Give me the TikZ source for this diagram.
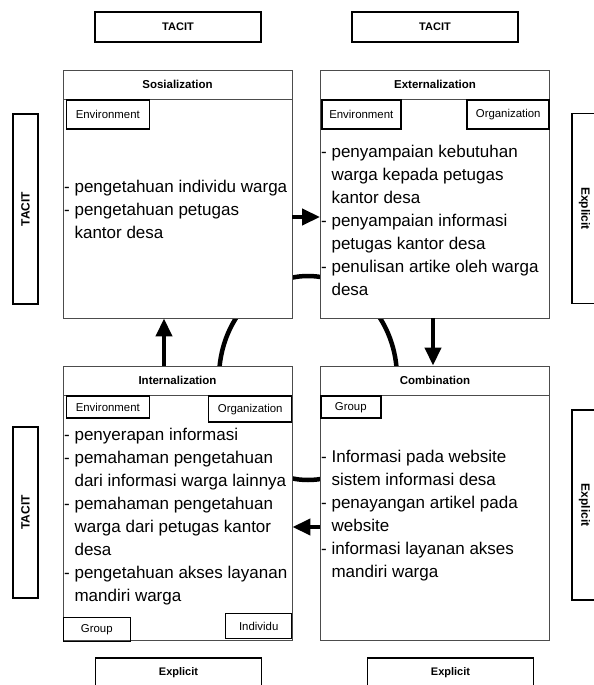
\documentclass[tikz,border=0pt]{standalone}
\usepackage{fontspec}
\setmainfont{Liberation Sans}
\usetikzlibrary{arrows.meta}
\newcommand{\cont}{\phantom{- }}

\begin{document}
\begin{tikzpicture}[x=1pt,y=-1pt,
    panel/.style={draw=black!70,line width=0.9pt,fill=white,
      minimum width=229pt,inner sep=0pt},
    phase/.style={draw=black!70,line width=0.9pt,minimum width=229pt,
      minimum height=29pt,inner sep=0pt,
      font=\fontsize{11.5}{13}\selectfont\bfseries},
    tag/.style={draw,line width=1.5pt,inner sep=0pt,
      font=\fontsize{11.4}{13}\selectfont},
    kind/.style={draw,line width=1.3pt,inner sep=0pt,
      font=\fontsize{11}{12}\selectfont\bfseries},
    upright/.style={kind,minimum width=190pt,minimum height=25pt,
      font=\fontsize{12}{14}\selectfont\bfseries},
    body/.style={align=left,inner sep=0pt,font=\fontsize{17}{23}\selectfont},
    flow/.style={line width=4pt,-{Triangle[length=18pt,width=16pt]}}]
  \useasboundingbox (0,0) rectangle (594,685);
  \clip (0,0) rectangle (594,685);

  % Knowledge cycle behind the four panels.
  \draw[line width=4.5pt] (308,378) ellipse [x radius=89pt,y radius=102pt];

  % The four SECI panels and their headings.
  \node[panel,minimum height=248pt] (soc) at (177.5,194) {};
  \node[panel,minimum height=248pt] (ext) at (435,194) {};
  \node[panel,minimum height=274pt] (intl) at (177.5,503) {};
  \node[panel,minimum height=274pt] (comb) at (435,503) {};
  \foreach \p/\ttl in {soc/Sosialization, ext/Externalization,
      intl/Internalization, comb/Combination}
    \node[phase,anchor=north] (\p-head) at (\p.north) {\ttl};

  % Scope tags inside the panels.
  \node[tag,minimum width=83pt,minimum height=29pt,anchor=north west]
    (soc-env) at ([xshift=3pt]soc-head.south west) {Environment};
  \node[tag,minimum width=79pt,minimum height=29pt,anchor=north west]
    (ext-env) at ([xshift=1pt]ext-head.south west) {Environment};
  \node[tag,minimum width=82pt,minimum height=29pt,anchor=north east]
    (ext-org) at (ext-head.south east) {Organization};
  \node[tag,minimum width=83pt,minimum height=22pt,anchor=north west]
    (intl-env) at ([xshift=3pt]intl-head.south west) {Environment};
  \node[tag,minimum width=83pt,minimum height=26pt,anchor=north east]
    (intl-org) at (intl-head.south east) {Organization};
  \node[tag,minimum width=60pt,minimum height=22pt,anchor=north west]
    (comb-grp) at (comb-head.south west) {Group};
  \node[tag,minimum width=67pt,minimum height=24pt,anchor=south west]
    (intl-grp) at ([yshift=-2pt]intl.south west) {Group};
  \node[tag,minimum width=66pt,minimum height=25pt,anchor=south east]
    (intl-ind) at ([yshift=1pt]intl.south east) {Individu};

  % Knowledge held in each mode.
  \node[body,anchor=west] (soc-txt) at (64,209)
    {- pengetahuan individu warga\\- pengetahuan petugas\\\cont kantor desa};
  \node[body,anchor=west] (ext-txt) at (321,220.5)
    {- penyampaian kebutuhan\\\cont warga kepada petugas\\\cont kantor desa\\
     - penyampaian informasi\\\cont petugas kantor desa\\
     - penulisan artike oleh warga\\\cont desa};
  \node[body,anchor=west] (intl-txt) at (64,516.5)
    {- penyerapan informasi\\- pemahaman pengetahuan\\
     \cont dari informasi warga lainnya\\- pemahaman pengetahuan\\
     \cont warga dari petugas kantor\\\cont desa\\
     - pengetahuan akses layanan\\\cont mandiri warga};
  \node[body,anchor=west] (comb-txt) at (321,515.5)
    {- Informasi pada website\\\cont sistem informasi desa\\
     - penayangan artikel pada\\\cont website\\
     - informasi layanan akses\\\cont mandiri warga};

  % Conversions between the modes.
  \draw[flow] (soc.east |- 0,217) -- (ext.west |- 0,217);
  \draw[flow] (ext.south -| 433,0) -- (comb.north -| 433,0);
  \draw[flow] (comb.west |- 0,527) -- (intl.east |- 0,527);
  \draw[flow] (intl.north -| 164,0) -- (soc.south -| 164,0);

  % Tacit and explicit labels round the matrix.
  \foreach \nm/\x/\y/\txt in {tac-a/178/27/TACIT, tac-b/435/27/TACIT,
      exp-a/178.5/673/Explicit, exp-b/450.5/673/Explicit}
    \node[kind,minimum width=166pt,minimum height=30pt] (\nm) at (\x,\y) {\txt};
  \node[upright,rotate=90] (tac-c) at (25.5,209) {TACIT};
  \node[upright,rotate=90,minimum width=171pt] (tac-d) at (25.5,512.5) {TACIT};
  \node[upright,rotate=-90] (exp-c) at (584.5,208.5) {Explicit};
  \node[upright,rotate=-90] (exp-d) at (584.5,505) {Explicit};
\end{tikzpicture}
\end{document}
